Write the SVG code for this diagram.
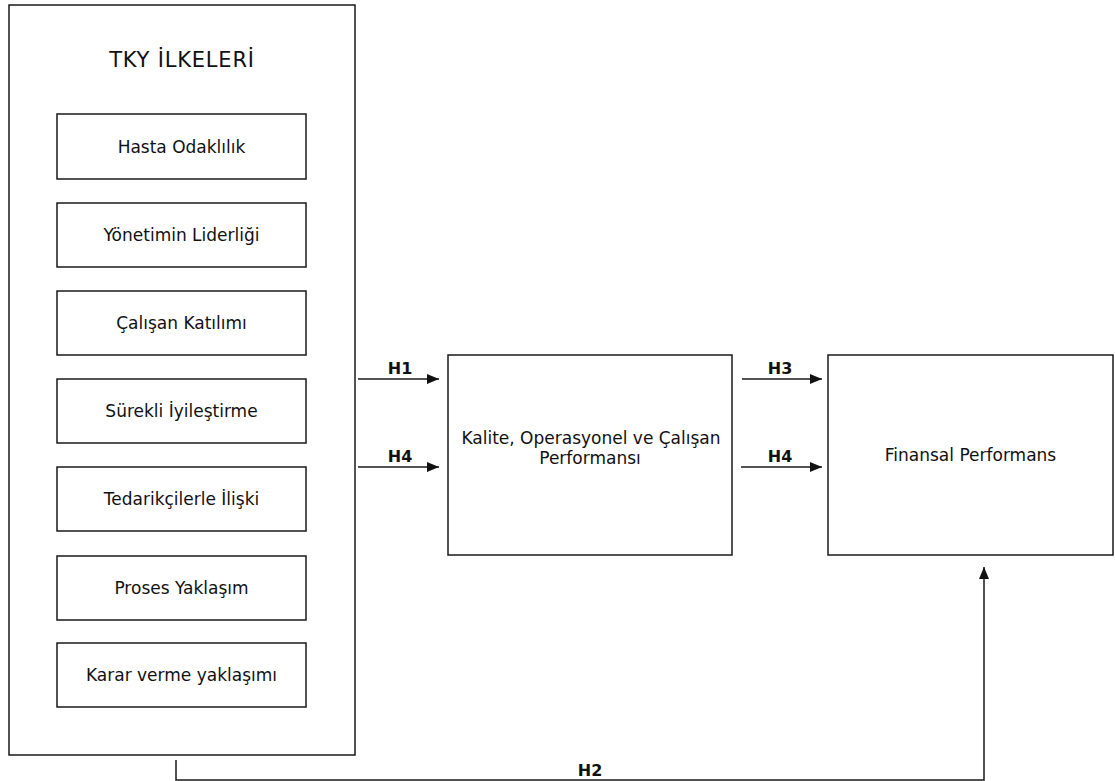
<svg xmlns="http://www.w3.org/2000/svg" width="1115" height="781" viewBox="0 0 1115 781">
  <style>
    .box { fill: #fff; stroke: #1a1a1a; stroke-width: 1.5; }
    .lbl { font-family: "DejaVu Sans", Verdana, sans-serif; font-size: 17px; fill: #111; text-anchor: middle; }
    .title { font-family: "DejaVu Sans", Verdana, sans-serif; font-size: 21px; letter-spacing: 0.8px; fill: #111; text-anchor: middle; }
    .h { font-family: "DejaVu Sans", Verdana, sans-serif; font-size: 16px; font-weight: bold; fill: #111; text-anchor: middle; }
    .conn { fill: none; stroke: #1a1a1a; stroke-width: 1.5; }
  </style>
  <defs>
    <marker id="arrow" viewBox="0 0 12 10" refX="12" refY="5" markerWidth="12" markerHeight="10" markerUnits="userSpaceOnUse" orient="auto">
      <path d="M0,0 L12,5 L0,10 Z" fill="#111"/>
    </marker>
  </defs>
  <rect width="1115" height="781" fill="#fff"/>

  <!-- principles container -->
  <g id="tky">
    <rect class="box" x="9" y="5" width="346" height="750"/>
    <text class="title" x="182" y="67">TKY İLKELERİ</text>
  </g>
  <g id="hasta">
    <rect class="box" x="57" y="114" width="249" height="65"/>
    <text class="lbl" x="181.5" y="153">Hasta Odaklılık</text>
  </g>
  <g id="yonetim">
    <rect class="box" x="57" y="203" width="249" height="64"/>
    <text class="lbl" x="181.5" y="241">Yönetimin Liderliği</text>
  </g>
  <g id="calisan">
    <rect class="box" x="57" y="291" width="249" height="64"/>
    <text class="lbl" x="181.5" y="329">Çalışan Katılımı</text>
  </g>
  <g id="surekli">
    <rect class="box" x="57" y="379" width="249" height="64"/>
    <text class="lbl" x="181.5" y="417">Sürekli İyileştirme</text>
  </g>
  <g id="tedarikci">
    <rect class="box" x="57" y="467" width="249" height="64"/>
    <text class="lbl" x="181.5" y="505">Tedarikçilerle İlişki</text>
  </g>
  <g id="proses">
    <rect class="box" x="57" y="556" width="249" height="64"/>
    <text class="lbl" x="181.5" y="594">Proses Yaklaşım</text>
  </g>
  <g id="karar">
    <rect class="box" x="57" y="643" width="249" height="64"/>
    <text class="lbl" x="181.5" y="681">Karar verme yaklaşımı</text>
  </g>

  <g id="kalite">
    <rect class="box" x="448" y="355" width="284" height="200"/>
    <text class="lbl" x="591" y="444">Kalite, Operasyonel ve Çalışan</text>
    <text class="lbl" x="590" y="464">Performansı</text>
  </g>

  <g id="finansal">
    <rect class="box" x="828" y="355" width="285" height="200"/>
    <text class="lbl" x="970.5" y="461">Finansal Performans</text>
  </g>

  <!-- hypothesis connectors -->
  <g id="connectors">
    <line class="conn" x1="358" y1="379" x2="439" y2="379" marker-end="url(#arrow)"/>
    <line class="conn" x1="358" y1="467" x2="439" y2="467" marker-end="url(#arrow)"/>
    <line class="conn" x1="742" y1="379" x2="822" y2="379" marker-end="url(#arrow)"/>
    <line class="conn" x1="741" y1="467" x2="822" y2="467" marker-end="url(#arrow)"/>
    <path class="conn" d="M176,760 V780 H984 V567" marker-end="url(#arrow)"/>
    <text class="h" x="400" y="374">H1</text>
    <text class="h" x="400" y="462">H4</text>
    <text class="h" x="780" y="374">H3</text>
    <text class="h" x="780" y="462">H4</text>
    <text class="h" x="590" y="776">H2</text>
  </g>
</svg>
